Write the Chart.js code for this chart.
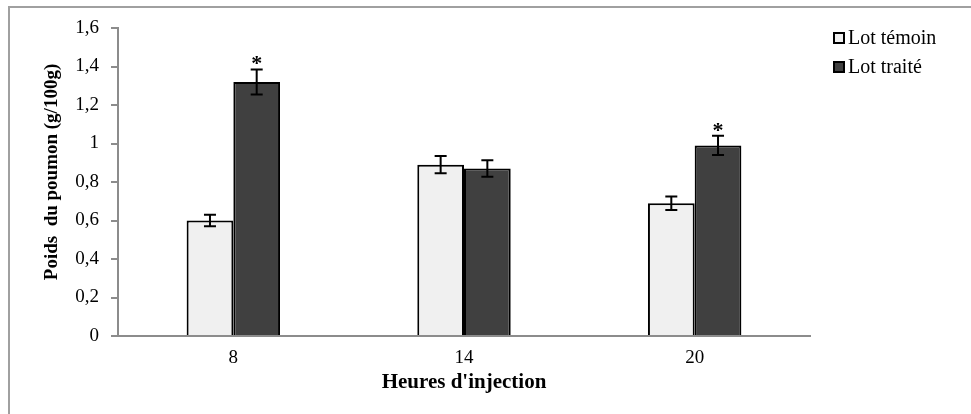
<!DOCTYPE html>
<html>
<head>
<meta charset="utf-8">
<script src="https://cdn.jsdelivr.net/npm/chart.js@4"></script>
<style>
  html, body { margin: 0; padding: 0; background: #fff; }
  #wrap { position: relative; width: 971px; height: 414px; }
  #frame { position: absolute; left: 8px; top: 6px; right: 0; bottom: 0; border-left: 2px solid #a0a0a0; border-top: 2px solid #a0a0a0; }
  canvas { position: absolute; left: 0; top: 0; }
</style>
</head>
<body>
<div id="wrap">
  <div id="frame"></div>
  <canvas id="chart" width="971" height="414"></canvas>
</div>
<script>
// ---- données ----
const hours = ["8", "14", "20"];
const temoin = [0.60, 0.89, 0.69];
const temoinErr = [0.03, 0.045, 0.035];
const traite = [1.32, 0.87, 0.99];
const traiteErr = [0.065, 0.043, 0.05];
const traiteSignif = [true, false, true];
const yTicks = [0, 0.2, 0.4, 0.6, 0.8, 1, 1.2, 1.4, 1.6];
const yTitle = "Poids  du poumon (g/100g)";

const SERIF = "'Liberation Serif', 'Times New Roman', serif";

// barres d'erreur + astérisques
const errorBars = {
  id: "errorBars",
  afterDatasetsDraw(chart) {
    const ctx = chart.ctx;
    const y = chart.scales.y;
    const errs = [temoinErr, traiteErr];
    ctx.save();
    ctx.strokeStyle = "#000";
    ctx.lineWidth = 2;
    chart.data.datasets.forEach((ds, i) => {
      chart.getDatasetMeta(i).data.forEach((bar, j) => {
        const v = ds.data[j], e = errs[i][j];
        const top = y.getPixelForValue(v + e), bot = y.getPixelForValue(v - e);
        const x = bar.x;
        ctx.beginPath();
        ctx.moveTo(x, top); ctx.lineTo(x, bot);
        ctx.moveTo(x - 6, top); ctx.lineTo(x + 6, top);
        ctx.moveTo(x - 6, bot); ctx.lineTo(x + 6, bot);
        ctx.stroke();
        if (i === 1 && traiteSignif[j]) {
          ctx.fillStyle = "#000";
          ctx.font = "bold 22px " + SERIF;
          ctx.textAlign = "center";
          ctx.textBaseline = "alphabetic";
          ctx.fillText("*", x, top + 1);
        }
      });
    });
    ctx.restore();
  },
};

// légende à droite + titre de l'axe Y
const sideLegend = {
  id: "sideLegend",
  afterDraw(chart) {
    const ctx = chart.ctx;
    ctx.save();
    ctx.font = "20px " + SERIF;
    ctx.textBaseline = "middle";
    ctx.textAlign = "left";
    chart.data.datasets.forEach((ds, i) => {
      const cy = 38 + i * 29;
      ctx.fillStyle = ds.backgroundColor;
      ctx.fillRect(834, cy - 5, 10, 10);
      ctx.strokeStyle = "#000";
      ctx.lineWidth = 2;
      ctx.strokeRect(834, cy - 5, 10, 10);
      ctx.fillStyle = "#000";
      ctx.fillText(ds.label, 848, cy + 1);
    });

    ctx.translate(52, 172);
    ctx.rotate(-Math.PI / 2);
    ctx.font = "bold 19px " + SERIF;
    ctx.textAlign = "center";
    ctx.fillText(yTitle, 0, 0);
    ctx.restore();
  },
};

new Chart(document.getElementById("chart"), {
  type: "bar",
  data: {
    labels: hours,
    datasets: [
      { label: "Lot témoin", data: temoin, backgroundColor: "#f0f0f0", borderColor: "#000", borderWidth: 2, borderSkipped: "bottom" },
      { label: "Lot traité", data: traite, backgroundColor: "#404040", borderColor: "#000", borderWidth: 2, borderSkipped: "bottom" },
    ],
  },
  options: {
    responsive: false,
    animation: false,
    layout: { padding: { left: 0, top: 28, right: 161, bottom: 0 } },
    datasets: { bar: { barPercentage: 1, categoryPercentage: 0.405 } },
    plugins: {
      legend: { display: false },
      tooltip: { enabled: false },
    },
    scales: {
      x: {
        grid: { display: false },
        border: { display: true, color: "#8c8c8c", width: 2 },
        ticks: { color: "#000", font: { family: SERIF, size: 19 }, padding: 3 },
        title: { display: true, text: "Heures d'injection", color: "#000", font: { family: SERIF, size: 21, weight: "bold" }, padding: { top: 0, bottom: 19 } },
        afterFit(scale) { scale.height = 78; },
      },
      y: {
        min: 0, max: 1.6,
        afterBuildTicks(scale) { scale.ticks = yTicks.map(v => ({ value: v })); },
        grid: { drawOnChartArea: false, drawTicks: true, tickLength: 7, color: "#8c8c8c", lineWidth: 2 },
        border: { display: true, color: "#8c8c8c", width: 2 },
        ticks: {
          color: "#000", font: { family: SERIF, size: 19 }, padding: 12,
          callback: v => String(Math.round(v * 10) / 10).replace(".", ","),
        },
        afterFit(scale) { scale.width = 118; },
      },
    },
  },
  plugins: [errorBars, sideLegend],
});
</script>
</body>
</html>
